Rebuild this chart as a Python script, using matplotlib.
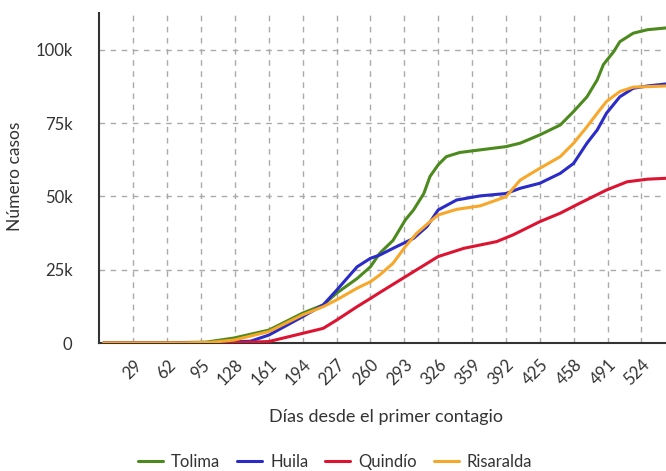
import matplotlib
matplotlib.use("Agg")
import matplotlib.pyplot as plt
from matplotlib.ticker import FuncFormatter

plt.rcParams['font.family'] = ['Lato', 'DejaVu Sans']

# Data (day, cases)
tolima_days = [0, 60, 100, 127, 161, 194, 214, 227, 247, 260, 269, 282, 294, 302, 312, 318, 326, 334, 347, 367, 392, 406, 425, 445, 458, 471, 481, 487, 497, 503, 516, 530, 548]
tolima_vals = [0, 50, 300, 1700, 4400, 10200, 13000, 17000, 22000, 26000, 30600, 35000, 42000, 45400, 51000, 56800, 60800, 63600, 65000, 65900, 67000, 68200, 71000, 74400, 79000, 84000, 89800, 95000, 99400, 102800, 105700, 106900, 107500]

huila_days = [0, 100, 143, 161, 194, 214, 227, 247, 260, 269, 282, 302, 315, 326, 344, 367, 392, 406, 425, 445, 458, 471, 481, 490, 503, 516, 530, 548]
huila_vals = [0, 50, 600, 2700, 9000, 13000, 18000, 26000, 28900, 30000, 32300, 35700, 39700, 45400, 48800, 50200, 51000, 52800, 54500, 57900, 61300, 68200, 72700, 78400, 84000, 86900, 87700, 88400]

quindio_days = [0, 120, 161, 194, 214, 227, 247, 260, 269, 294, 326, 351, 383, 399, 425, 445, 464, 490, 510, 530, 548]
quindio_vals = [0, 50, 500, 3300, 5000, 7800, 12400, 15200, 17200, 22600, 29500, 32300, 34600, 36900, 41400, 44300, 47700, 52200, 55000, 55900, 56200]

risaralda_days = [0, 80, 105, 127, 161, 194, 214, 227, 247, 260, 269, 282, 294, 305, 318, 326, 344, 367, 392, 406, 425, 445, 458, 471, 481, 490, 503, 516, 548]
risaralda_vals = [0, 50, 250, 1000, 3900, 9600, 12400, 14700, 18700, 20900, 23200, 27200, 32900, 37400, 41400, 43700, 45600, 46800, 49900, 55600, 59600, 63600, 68200, 73800, 78400, 82400, 85800, 87300, 87700]

x_ticks = [29, 62, 95, 128, 161, 194, 227, 260, 293, 326, 359, 392, 425, 458, 491, 524]
y_ticks = [0, 25000, 50000, 75000, 100000]

series = [
    ("Tolima", tolima_days, tolima_vals, "#4c8a1e"),
    ("Huila", huila_days, huila_vals, "#2b2bc8"),
    ("Quindío", quindio_days, quindio_vals, "#dc1432"),
    ("Risaralda", risaralda_days, risaralda_vals, "#f7a82a"),
]

fig = plt.figure(figsize=(6.66, 4.71), dpi=100)
ax = fig.add_axes([99/666, 128/471, (666-99)/666, 330/471])

for name, d, v, c in series:
    ax.plot(d, v, color=c, lw=2.2, label=name, solid_capstyle='round', zorder=3)

ax.set_xlim(-4.5, 548)
ax.set_ylim(0, 112600)
ax.set_xticks(x_ticks)
ax.set_yticks(y_ticks)

def kfmt(v, pos):
    return "0" if v == 0 else f"{int(v/1000)}k"
ax.yaxis.set_major_formatter(FuncFormatter(kfmt))

ax.grid(True, color="#aaaaaa", ls=(0, (4, 4)), lw=1)
ax.set_axisbelow(True)
for s in ["top", "right"]:
    ax.spines[s].set_visible(False)
for s in ["left", "bottom"]:
    ax.spines[s].set_color("#333333")
    ax.spines[s].set_linewidth(1.5)

ax.tick_params(axis='both', length=0, labelsize=12, colors="#333333")
ax.tick_params(axis='y', pad=19)
ax.tick_params(axis='x', pad=10)
for lbl in ax.get_xticklabels():
    lbl.set_rotation(45)
    lbl.set_ha('right')
    lbl.set_va('top')
    lbl.set_rotation_mode('anchor')

fig.text((265 + 507) / 2 / 666, 1 - 417 / 471, "Días desde el primer contagio",
         fontsize=13, color="#333333", ha='center', va='center')
fig.text(15 / 666, 1 - 176 / 471, "Número casos", fontsize=12.5, color="#333333",
         ha='center', va='center', rotation=90)

fig.legend(loc='center', bbox_to_anchor=(335 / 666, 1 - 462 / 471), ncol=4, frameon=False,
           fontsize=12, handlelength=1.5, columnspacing=1.0, handletextpad=0.5,
           labelcolor="#333333")

fig.savefig("out.png", dpi=100)
